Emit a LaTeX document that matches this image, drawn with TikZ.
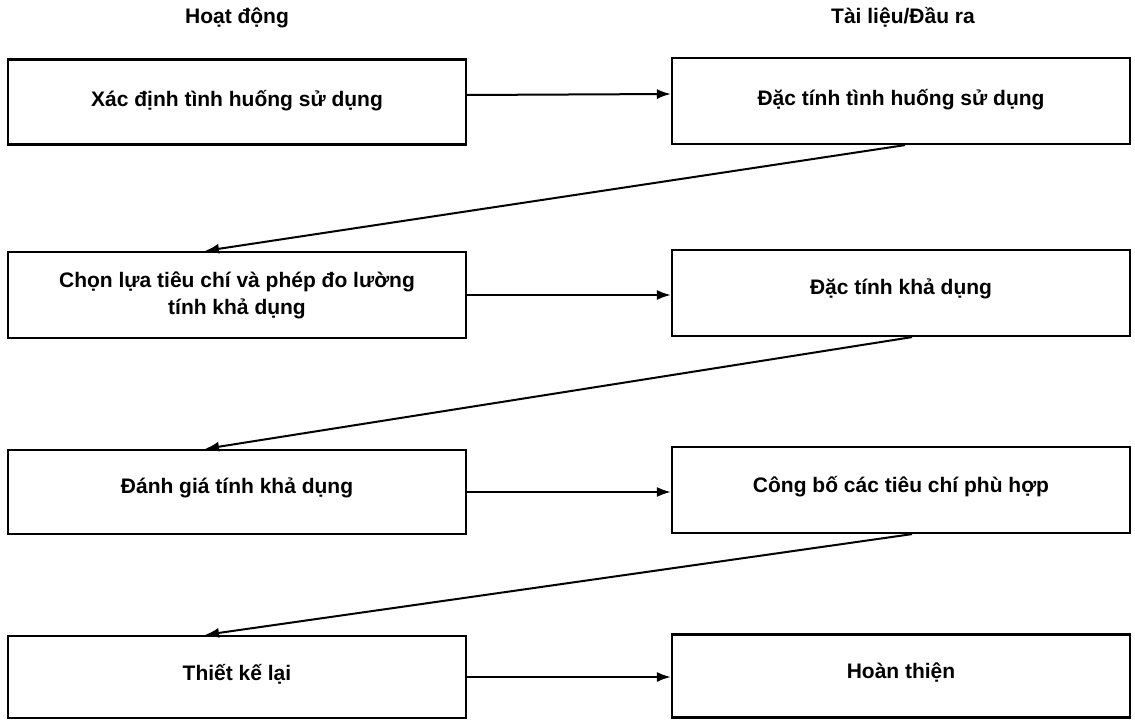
\documentclass[tikz,border=0pt]{standalone}
\usepackage{fontspec}
\setmainfont{Liberation Sans}
\usetikzlibrary{arrows.meta}
\begin{document}
\begin{tikzpicture}[x=1pt,y=-1pt,
  every node/.style={font=\bfseries\fontsize{21}{27}\selectfont},
  box/.style={draw, line width=2.2pt, minimum width=458pt, inner sep=0pt, align=center, anchor=center},
  hdr/.style={inner sep=0pt, anchor=center},
  conn/.style={line width=2pt, -{Latex[length=14pt,width=10pt]}}
]
\useasboundingbox (0,0) rectangle (1135,722);
\node[hdr] (h1) at (237,18) {Hoạt động};
\node[hdr] (h2) at (903,17) {Tài liệu/Đầu ra};

\node[box, minimum height=85pt] (l1) at (237,102) {\raisebox{8pt}{Xác định tình huống sử dụng}};
\node[box, minimum height=86pt] (r1) at (901,101) {\raisebox{8pt}{Đặc tính tình huống sử dụng}};

\node[box, minimum height=86pt] (l2) at (237,295) {Chọn lựa tiêu chí và phép đo lường\\tính khả dụng};
\node[box, minimum height=86pt] (r2) at (901,293) {\raisebox{12pt}{Đặc tính khả dụng}};

\node[box, minimum height=84pt] (l3) at (237,492) {\raisebox{12pt}{Đánh giá tính khả dụng}};
\node[box, minimum height=86pt] (r3) at (901,490) {\raisebox{12pt}{Công bố các tiêu chí phù hợp}};

\node[box, minimum height=82pt] (l4) at (237,677) {\raisebox{10pt}{Thiết kế lại}};
\node[box, minimum height=83pt] (r4) at (901,676) {\raisebox{10pt}{Hoàn thiện}};

\draw[conn] ([yshift=7pt]l1.east) -- ([yshift=7pt]r1.west);
\draw[conn] (l2.east) -- (l2.east -| r2.west);
\draw[conn] (l3.east) -- (l3.east -| r3.west);
\draw[conn] (l4.east) -- (l4.east -| r4.west);

\draw[conn] ([xshift=4pt]r1.south) -- ([xshift=-32pt]l2.north);
\draw[conn] ([xshift=11pt]r2.south) -- ([xshift=-32pt]l3.north);
\draw[conn] ([xshift=11pt]r3.south) -- ([xshift=-32pt]l4.north);
\end{tikzpicture}
\end{document}
